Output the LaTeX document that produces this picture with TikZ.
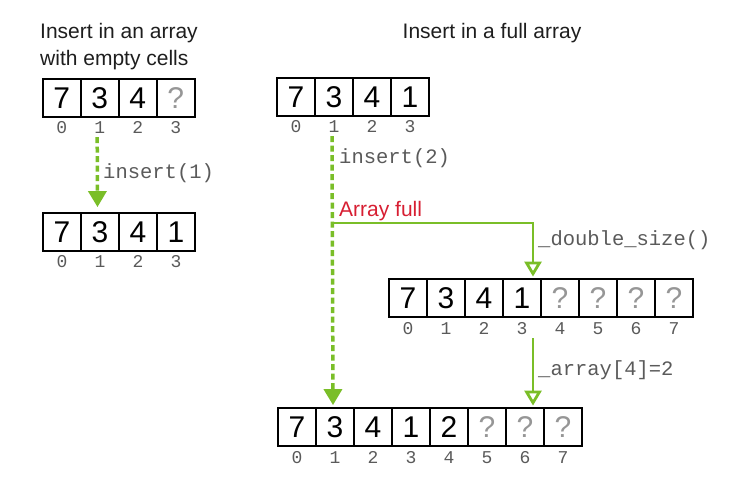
\documentclass[tikz,border=0pt]{standalone}
\usepackage{fontspec}
\setmainfont{Liberation Sans}
\setmonofont{Liberation Mono}
\usetikzlibrary{arrows.meta,calc}
\definecolor{grn}{RGB}{122,190,40}
\definecolor{redtxt}{RGB}{215,30,50}
\definecolor{qgray}{RGB}{150,150,150}
\definecolor{idxgray}{RGB}{90,90,90}
\definecolor{titlec}{RGB}{30,30,30}
\newcommand{\qm}{\textcolor{qgray}{?}}
\tikzset{
  cell/.style={draw, line width=1.8bp, minimum width=38bp, minimum height=38bp,
    inner sep=0pt, font=\fontsize{30bp}{30bp}\selectfont},
  idx/.style={inner sep=0pt, anchor=base, text=idxgray, font=\ttfamily\fontsize{18bp}{18bp}\selectfont},
  codelbl/.style={anchor=west, inner sep=0pt, text=idxgray, font=\ttfamily\fontsize{20.5bp}{20.5bp}\selectfont},
  titlelbl/.style={inner sep=0pt, text=titlec, font=\fontsize{21bp}{21bp}\selectfont},
  dsh/.style={draw=grn, line width=3.5bp, dash pattern=on 6bp off 3.5bp,
    -{Triangle[width=18bp,length=16bp]}},
  sol/.style={draw=grn, line width=2.8bp,
    -{Triangle[width=17bp,length=15bp,fill=white]}},
}
\newcommand{\drawarr}[4]{%
  \foreach \v [count=\i from 0] in {#4} {
    \node[cell] (#1-\i) at ({#2+19+38*\i},{#3+19}) {\v};
    \node[idx] (#1-i\i) at ({#2+19+38*\i},{#3+55}) {\i};
  }%
}
\begin{document}
\begin{tikzpicture}[x=1bp,y=-1bp]
\useasboundingbox (0,0) rectangle (743,485);
% titles
\node[titlelbl, anchor=west] (t1) at (40,33) {Insert in an array};
\node[titlelbl, anchor=west] (t2) at (40,60) {with empty cells};
\node[titlelbl] (t3) at (492,33) {Insert in a full array};
% arrays
\drawarr{A}{42.7}{79}{7,3,4,\qm}
\drawarr{B}{43}{213}{7,3,4,1}
\drawarr{C}{277}{78}{7,3,4,1}
\drawarr{D}{389}{279}{7,3,4,1,\qm,\qm,\qm,\qm}
\drawarr{E}{278}{408}{7,3,4,1,2,\qm,\qm,\qm}
% left arrow
\draw[dsh] ([xshift=-2.5bp,yshift=-3bp]A-i1.south) -- ([xshift=-2.5bp,yshift=5bp]B-1.north);
\node[codelbl] (l1) at (103,173) {insert(1)};
% big dashed arrow
\draw[dsh] ([xshift=-2bp,yshift=-3bp]C-i1.south) -- ([xshift=-2bp,yshift=2bp]E-1.north);
\node[codelbl] (l2) at (339,158) {insert(2)};
\node[titlelbl, anchor=west, text=redtxt] (full) at (339,211) {Array full};
% solid path to doubled array
\coordinate (J) at ($(C-1.center)+(-2,126)$);
\coordinate (K) at (533,223);
\coordinate (Dtop) at (K |- D-3.north);
\draw[sol] (J) -- (K) -- ([yshift=1.5bp]Dtop);
\node[codelbl] (l3) at (538,240) {\_double\_size()};
% second solid arrow
\coordinate (S2) at (K |- D-i3.south);
\coordinate (Etop) at (K |- E-6.north);
\draw[sol] ([yshift=-4bp]S2) -- ([yshift=1.5bp]Etop);
\node[codelbl] (l4) at (538,370) {\_array[4]=2};
\end{tikzpicture}
\end{document}
